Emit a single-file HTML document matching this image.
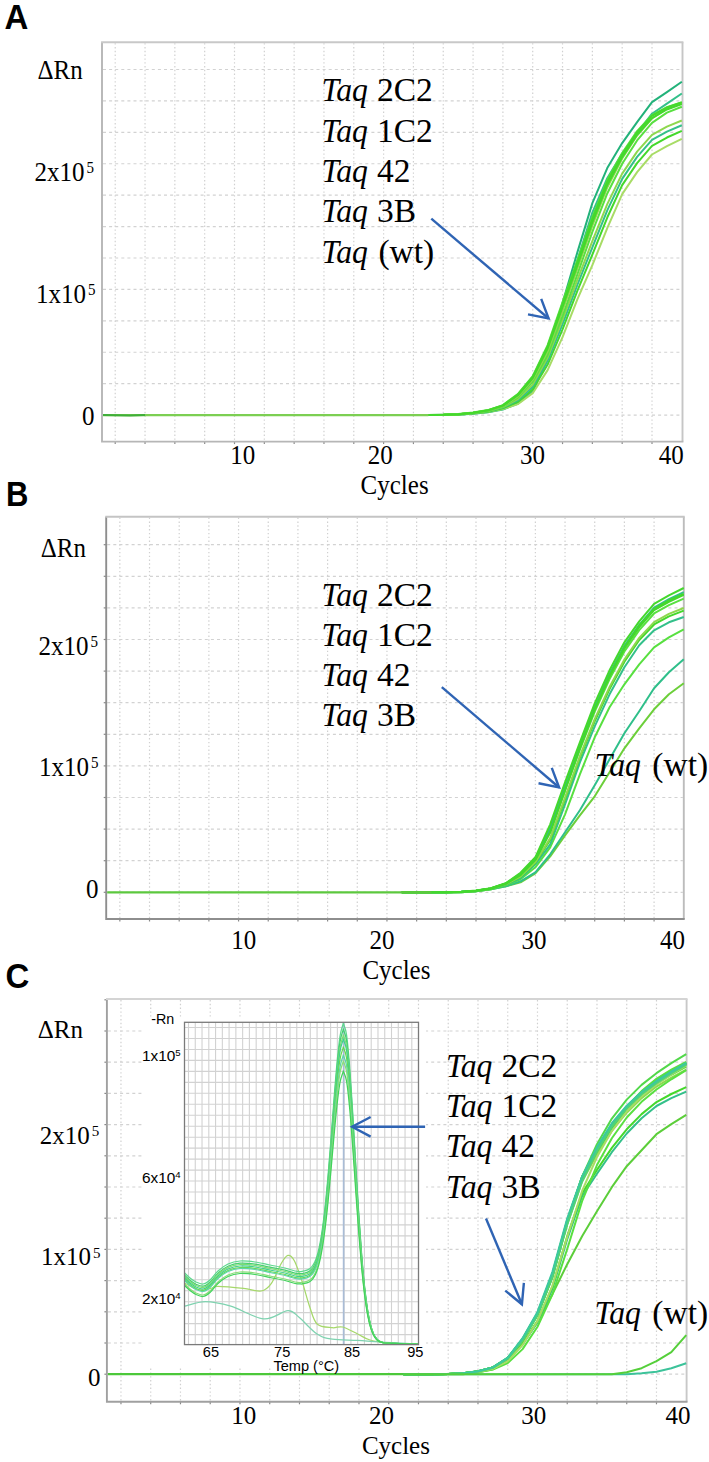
<!DOCTYPE html>
<html><head><meta charset="utf-8"><title>qPCR</title>
<style>html,body{margin:0;padding:0;background:#fff;width:709px;height:1462px;overflow:hidden}svg{display:block}</style>
</head><body>
<svg width="709" height="1462" viewBox="0 0 709 1462">
<rect width="709" height="1462" fill="#fff"/>
<g stroke="#d0d0d0" stroke-width="1.2" stroke-dasharray="1.4 2.4"><line x1="115.21" y1="43.2" x2="115.21" y2="440.6"/><line x1="145.03" y1="43.2" x2="145.03" y2="440.6"/><line x1="174.85" y1="43.2" x2="174.85" y2="440.6"/><line x1="204.68" y1="43.2" x2="204.68" y2="440.6"/><line x1="234.5" y1="43.2" x2="234.5" y2="440.6"/><line x1="264.32" y1="43.2" x2="264.32" y2="440.6"/><line x1="294.14" y1="43.2" x2="294.14" y2="440.6"/><line x1="323.96" y1="43.2" x2="323.96" y2="440.6"/><line x1="353.79" y1="43.2" x2="353.79" y2="440.6"/><line x1="383.61" y1="43.2" x2="383.61" y2="440.6"/><line x1="413.43" y1="43.2" x2="413.43" y2="440.6"/><line x1="443.25" y1="43.2" x2="443.25" y2="440.6"/><line x1="473.07" y1="43.2" x2="473.07" y2="440.6"/><line x1="502.9" y1="43.2" x2="502.9" y2="440.6"/><line x1="532.72" y1="43.2" x2="532.72" y2="440.6"/><line x1="562.54" y1="43.2" x2="562.54" y2="440.6"/><line x1="592.36" y1="43.2" x2="592.36" y2="440.6"/><line x1="622.18" y1="43.2" x2="622.18" y2="440.6"/><line x1="652.01" y1="43.2" x2="652.01" y2="440.6"/></g>
<g stroke="#d2d2d2" stroke-width="1.2" stroke-dasharray="3 3.1"><line x1="103" y1="415.1" x2="681.5" y2="415.1"/><line x1="103" y1="383.68" x2="681.5" y2="383.68"/><line x1="103" y1="352.26" x2="681.5" y2="352.26"/><line x1="103" y1="320.84" x2="681.5" y2="320.84"/><line x1="103" y1="289.42" x2="681.5" y2="289.42"/><line x1="103" y1="258" x2="681.5" y2="258"/><line x1="103" y1="226.58" x2="681.5" y2="226.58"/><line x1="103" y1="195.16" x2="681.5" y2="195.16"/><line x1="103" y1="163.74" x2="681.5" y2="163.74"/><line x1="103" y1="132.32" x2="681.5" y2="132.32"/><line x1="103" y1="100.9" x2="681.5" y2="100.9"/><line x1="103" y1="69.48" x2="681.5" y2="69.48"/></g>
<g stroke="#8a8a8a" stroke-width="1.2"><line x1="115.21" y1="441.6" x2="115.21" y2="444.1"/><line x1="145.03" y1="441.6" x2="145.03" y2="444.1"/><line x1="174.85" y1="441.6" x2="174.85" y2="444.1"/><line x1="204.68" y1="441.6" x2="204.68" y2="444.1"/><line x1="234.5" y1="441.6" x2="234.5" y2="444.1"/><line x1="264.32" y1="441.6" x2="264.32" y2="444.1"/><line x1="294.14" y1="441.6" x2="294.14" y2="444.1"/><line x1="323.96" y1="441.6" x2="323.96" y2="444.1"/><line x1="353.79" y1="441.6" x2="353.79" y2="444.1"/><line x1="383.61" y1="441.6" x2="383.61" y2="444.1"/><line x1="413.43" y1="441.6" x2="413.43" y2="444.1"/><line x1="443.25" y1="441.6" x2="443.25" y2="444.1"/><line x1="473.07" y1="441.6" x2="473.07" y2="444.1"/><line x1="502.9" y1="441.6" x2="502.9" y2="444.1"/><line x1="532.72" y1="441.6" x2="532.72" y2="444.1"/><line x1="562.54" y1="441.6" x2="562.54" y2="444.1"/><line x1="592.36" y1="441.6" x2="592.36" y2="444.1"/><line x1="622.18" y1="441.6" x2="622.18" y2="444.1"/><line x1="652.01" y1="441.6" x2="652.01" y2="444.1"/></g>
<line x1="682.5" y1="42.2" x2="682.5" y2="441.6" stroke="#c6c6c6" stroke-width="1.9"/>
<path d="M102 42.2V441.6H683.4" fill="none" stroke="#b6b6b6" stroke-width="1.9"/>
<line x1="101.1" y1="42.2" x2="683.4" y2="42.2" stroke="#c8c8c8" stroke-width="1.9"/>
<polyline fill="none" stroke="#22b27a" stroke-width="2.0" stroke-linejoin="round" points="398.52,415.1 413.43,415.1 428.34,415.1 443.25,415.1 458.16,414.6 473.07,413.6 487.99,412.1 502.9,409.1 517.81,403.1 532.72,390.1 547.63,355.1 562.54,303.1 577.45,252.1 592.36,203.1 607.27,168.1 622.18,143.1 637.1,122.1 652.01,102.1 666.92,92.1 681.83,81.7"/>
<polyline fill="none" stroke="#33c08a" stroke-width="2.0" stroke-linejoin="round" points="398.52,415.1 413.43,415.1 428.34,415.1 443.25,415.1 458.16,414.64 473.07,413.7 487.99,412.27 502.9,409.45 517.81,403.8 532.72,391.58 547.63,358.83 562.54,309.42 577.45,260.11 592.36,212.67 607.27,178.19 622.18,153.56 637.1,133.08 652.01,113.71 666.92,103.56 681.83,93.54"/>
<polyline fill="none" stroke="#a8dc66" stroke-width="2.0" stroke-linejoin="round" points="398.52,415.1 413.43,415.1 428.34,415.1 443.25,414.9 458.16,414.5 473.07,413.6 487.99,412.1 502.9,409.1 517.81,404.1 532.72,393.1 547.63,370.1 562.54,337.1 577.45,299.1 592.36,265.1 607.27,228.1 622.18,194.1 637.1,172.1 652.01,154.5 666.92,146.1 681.83,138.9"/>
<polyline fill="none" stroke="#44d82c" stroke-width="2.0" stroke-linejoin="round" points="398.52,415.1 413.43,415.1 428.34,415.1 443.25,414.88 458.16,414.41 473.07,413.38 487.99,411.66 502.9,408.22 517.81,401.9 532.72,389.36 547.63,364.6 562.54,329.4 577.45,290.52 592.36,254.54 607.27,217.54 622.18,185.08 637.1,163.08 652.01,145.83 666.92,137.52 681.83,130.8"/>
<polyline fill="none" stroke="#33c08a" stroke-width="2.0" stroke-linejoin="round" points="398.52,415.1 413.43,415.1 428.34,415.1 443.25,414.86 458.16,414.35 473.07,413.23 487.99,411.36 502.9,407.62 517.81,400.4 532.72,386.81 547.63,360.85 562.54,324.15 577.45,284.67 592.36,247.34 607.27,210.34 622.18,178.93 637.1,156.93 652.01,139.92 666.92,131.67 681.83,125.28"/>
<polyline fill="none" stroke="#8ed84e" stroke-width="2.0" stroke-linejoin="round" points="398.52,415.1 413.43,415.1 428.34,415.1 443.25,414.85 458.16,414.3 473.07,413.1 487.99,411.1 502.9,407.1 517.81,399.1 532.72,384.6 547.63,357.6 562.54,319.6 577.45,279.6 592.36,241.1 607.27,204.1 622.18,173.6 637.1,151.6 652.01,134.8 666.92,126.6 681.83,120.5"/>
<polyline fill="none" stroke="#58e040" stroke-width="2.0" stroke-linejoin="round" points="398.52,415.1 413.43,415.1 428.34,415.1 443.25,414.89 458.16,414.32 473.07,413.07 487.99,410.89 502.9,406.69 517.81,397.58 532.72,381.84 547.63,355.01 562.54,316 577.45,274.12 592.36,231.85 607.27,193.44 622.18,163.74 637.1,140.47 652.01,122.85 666.92,112.56 681.83,106.72"/>
<polyline fill="none" stroke="#8ed84e" stroke-width="2.0" stroke-linejoin="round" points="398.52,415.1 413.43,415.1 428.34,415.1 443.25,414.86 458.16,414.24 473.07,412.9 487.99,410.6 502.9,406.1 517.81,396.3 532.72,379.7 547.63,351.3 562.54,310.7 577.45,268.5 592.36,225.7 607.27,187.5 622.18,158.5 637.1,135.5 652.01,118.3 666.92,108.7 681.83,103.1"/>
<polyline fill="none" stroke="#44d82c" stroke-width="2.0" stroke-linejoin="round" points="398.52,415.1 413.43,415.1 428.34,415.1 443.25,414.83 458.16,414.17 473.07,412.76 487.99,410.37 502.9,405.65 517.81,395.3 532.72,378.09 547.63,348.53 562.54,306.94 577.45,265.05 592.36,222.37 607.27,184.96 622.18,157.1 637.1,134.71 652.01,118.19 666.92,109.44 681.83,104.16"/>
<polyline fill="none" stroke="#58e040" stroke-width="2.0" stroke-linejoin="round" points="398.52,415.1 413.43,415.1 428.34,415.1 443.25,414.8 458.16,414.1 473.07,412.6 487.99,410.1 502.9,405.1 517.81,394.1 532.72,376.1 547.63,345.1 562.54,302.1 577.45,260.1 592.36,217.1 607.27,180.1 622.18,153.1 637.1,131.1 652.01,115.1 666.92,107.1 681.83,102.1"/>
<polyline fill="none" stroke="#44d82c" stroke-width="2.0" stroke-linejoin="round" points="398.52,415.1 413.43,415.1 428.34,415.1 443.25,414.81 458.16,414.14 473.07,412.68 487.99,410.23 502.9,405.35 517.81,394.65 532.72,377 547.63,346.65 562.54,304.25 577.45,262.2 592.36,219.25 607.27,181.95 622.18,154.45 637.1,132.2 652.01,115.9 666.92,107.5 681.83,102.35"/>
<line x1="103" y1="415.1" x2="428.34" y2="415.1" stroke="#7ccf52" stroke-width="2.2"/>
<path d="M103 415.1L130.12 415.5L145.03 415.1" fill="none" stroke="#3fae3a" stroke-width="2"/>
<text transform="translate(4.5 28.8) scale(1 1.06)" font-size="33" font-family="'Liberation Sans', sans-serif" font-weight="bold">A</text>
<text transform="translate(37.5 78.5) scale(1 1.08)" font-size="25.0" font-family="'Liberation Serif', serif" >&#916;Rn</text>
<text transform="translate(34.5 181.4) scale(1 1.08)" font-size="25.0" font-family="'Liberation Serif', serif" >2x10<tspan font-size="15" dx="2" dy="-7.4">5</tspan></text>
<text transform="translate(36 303.3) scale(1 1.08)" font-size="25.0" font-family="'Liberation Serif', serif" >1x10<tspan font-size="15" dx="2" dy="-7.4">5</tspan></text>
<text transform="translate(82 424.6) scale(1 1.08)" font-size="25.0" font-family="'Liberation Serif', serif" >0</text>
<text transform="translate(242.8 463.5) scale(1 1.08)" font-size="25.0" text-anchor="middle" font-family="'Liberation Serif', serif" >10</text>
<text transform="translate(380.2 463.5) scale(1 1.08)" font-size="25.0" text-anchor="middle" font-family="'Liberation Serif', serif" >20</text>
<text transform="translate(532.6 463.5) scale(1 1.08)" font-size="25.0" text-anchor="middle" font-family="'Liberation Serif', serif" >30</text>
<text transform="translate(671.3 463.5) scale(1 1.08)" font-size="25.0" text-anchor="middle" font-family="'Liberation Serif', serif" >40</text>
<text transform="translate(394.6 493.8) scale(1 1.08)" font-size="25.0" text-anchor="middle" font-family="'Liberation Serif', serif" >Cycles</text>
<text transform="translate(321.5 101.2) scale(0.96 1)" font-size="33" font-family="'Liberation Serif', serif" font-style="italic">Taq</text><text transform="translate(376.9 101.2) scale(1 1.03)" font-size="33.5" font-family="'Liberation Serif', serif" >2C2</text>
<text transform="translate(321.5 141.55) scale(0.96 1)" font-size="33" font-family="'Liberation Serif', serif" font-style="italic">Taq</text><text transform="translate(376.9 141.55) scale(1 1.03)" font-size="33.5" font-family="'Liberation Serif', serif" >1C2</text>
<text transform="translate(321.5 181.9) scale(0.96 1)" font-size="33" font-family="'Liberation Serif', serif" font-style="italic">Taq</text><text transform="translate(376.9 181.9) scale(1 1.03)" font-size="33.5" font-family="'Liberation Serif', serif" >42</text>
<text transform="translate(321.5 222.25) scale(0.96 1)" font-size="33" font-family="'Liberation Serif', serif" font-style="italic">Taq</text><text transform="translate(376.9 222.25) scale(1 1.03)" font-size="33.5" font-family="'Liberation Serif', serif" >3B</text>
<text transform="translate(321.5 262.6) scale(0.96 1)" font-size="33" font-family="'Liberation Serif', serif" font-style="italic">Taq</text><text transform="translate(378.4 262.6) scale(1 1.03)" font-size="33.5" font-family="'Liberation Serif', serif" >(wt)</text>
<g stroke="#2f64b4" stroke-width="2.4" fill="none" stroke-linecap="butt" stroke-linejoin="miter"><line x1="431.3" y1="218.7" x2="548.6" y2="318.5"/><polyline points="528.01,314.35 548.6,318.5 541.21,298.84"/></g>
<g stroke="#d0d0d0" stroke-width="1.2" stroke-dasharray="1.4 2.4"><line x1="119.84" y1="517.7" x2="119.84" y2="918"/><line x1="149.52" y1="517.7" x2="149.52" y2="918"/><line x1="179.2" y1="517.7" x2="179.2" y2="918"/><line x1="208.88" y1="517.7" x2="208.88" y2="918"/><line x1="238.56" y1="517.7" x2="238.56" y2="918"/><line x1="268.24" y1="517.7" x2="268.24" y2="918"/><line x1="297.92" y1="517.7" x2="297.92" y2="918"/><line x1="327.6" y1="517.7" x2="327.6" y2="918"/><line x1="357.28" y1="517.7" x2="357.28" y2="918"/><line x1="386.96" y1="517.7" x2="386.96" y2="918"/><line x1="416.64" y1="517.7" x2="416.64" y2="918"/><line x1="446.32" y1="517.7" x2="446.32" y2="918"/><line x1="476" y1="517.7" x2="476" y2="918"/><line x1="505.68" y1="517.7" x2="505.68" y2="918"/><line x1="535.36" y1="517.7" x2="535.36" y2="918"/><line x1="565.04" y1="517.7" x2="565.04" y2="918"/><line x1="594.72" y1="517.7" x2="594.72" y2="918"/><line x1="624.4" y1="517.7" x2="624.4" y2="918"/><line x1="654.08" y1="517.7" x2="654.08" y2="918"/></g>
<g stroke="#d2d2d2" stroke-width="1.2" stroke-dasharray="3 3.1"><line x1="107.2" y1="892.3" x2="682.8" y2="892.3"/><line x1="107.2" y1="860.7" x2="682.8" y2="860.7"/><line x1="107.2" y1="829.1" x2="682.8" y2="829.1"/><line x1="107.2" y1="797.5" x2="682.8" y2="797.5"/><line x1="107.2" y1="765.9" x2="682.8" y2="765.9"/><line x1="107.2" y1="734.3" x2="682.8" y2="734.3"/><line x1="107.2" y1="702.7" x2="682.8" y2="702.7"/><line x1="107.2" y1="671.1" x2="682.8" y2="671.1"/><line x1="107.2" y1="639.5" x2="682.8" y2="639.5"/><line x1="107.2" y1="607.9" x2="682.8" y2="607.9"/><line x1="107.2" y1="576.3" x2="682.8" y2="576.3"/><line x1="107.2" y1="544.7" x2="682.8" y2="544.7"/></g>
<g stroke="#8a8a8a" stroke-width="1.2"><line x1="119.84" y1="919" x2="119.84" y2="921.5"/><line x1="149.52" y1="919" x2="149.52" y2="921.5"/><line x1="179.2" y1="919" x2="179.2" y2="921.5"/><line x1="208.88" y1="919" x2="208.88" y2="921.5"/><line x1="238.56" y1="919" x2="238.56" y2="921.5"/><line x1="268.24" y1="919" x2="268.24" y2="921.5"/><line x1="297.92" y1="919" x2="297.92" y2="921.5"/><line x1="327.6" y1="919" x2="327.6" y2="921.5"/><line x1="357.28" y1="919" x2="357.28" y2="921.5"/><line x1="386.96" y1="919" x2="386.96" y2="921.5"/><line x1="416.64" y1="919" x2="416.64" y2="921.5"/><line x1="446.32" y1="919" x2="446.32" y2="921.5"/><line x1="476" y1="919" x2="476" y2="921.5"/><line x1="505.68" y1="919" x2="505.68" y2="921.5"/><line x1="535.36" y1="919" x2="535.36" y2="921.5"/><line x1="565.04" y1="919" x2="565.04" y2="921.5"/><line x1="594.72" y1="919" x2="594.72" y2="921.5"/><line x1="624.4" y1="919" x2="624.4" y2="921.5"/><line x1="654.08" y1="919" x2="654.08" y2="921.5"/><line x1="103.7" y1="892.3" x2="106.2" y2="892.3"/><line x1="103.7" y1="860.7" x2="106.2" y2="860.7"/><line x1="103.7" y1="829.1" x2="106.2" y2="829.1"/><line x1="103.7" y1="797.5" x2="106.2" y2="797.5"/><line x1="103.7" y1="765.9" x2="106.2" y2="765.9"/><line x1="103.7" y1="734.3" x2="106.2" y2="734.3"/><line x1="103.7" y1="702.7" x2="106.2" y2="702.7"/><line x1="103.7" y1="671.1" x2="106.2" y2="671.1"/><line x1="103.7" y1="639.5" x2="106.2" y2="639.5"/><line x1="103.7" y1="607.9" x2="106.2" y2="607.9"/><line x1="103.7" y1="576.3" x2="106.2" y2="576.3"/><line x1="103.7" y1="544.7" x2="106.2" y2="544.7"/></g>
<line x1="683.8" y1="516.7" x2="683.8" y2="919" stroke="#bcbcbc" stroke-width="1.9"/>
<path d="M106.2 516.7V919H684.7" fill="none" stroke="#8e8e8e" stroke-width="1.9"/>
<line x1="105.3" y1="516.7" x2="684.7" y2="516.7" stroke="#c4c4c4" stroke-width="1.9"/>
<polyline fill="none" stroke="#6ccf3a" stroke-width="2.0" stroke-linejoin="round" points="401.8,892.3 416.64,892.3 431.48,892.3 446.32,892.3 461.16,892.3 476,891.3 490.84,889.3 505.68,886.3 520.52,882.3 535.36,873.3 550.2,856.3 565.04,835.3 579.88,815.3 594.72,796.3 609.56,772.3 624.4,748.3 639.24,728.3 654.08,709.3 668.92,694.3 683.76,683.3"/>
<polyline fill="none" stroke="#2fbf8a" stroke-width="2.0" stroke-linejoin="round" points="401.8,892.3 416.64,892.3 431.48,892.3 446.32,892.3 461.16,892.3 476,891.3 490.84,889.3 505.68,886.3 520.52,881.3 535.36,872.3 550.2,854.3 565.04,832.3 579.88,810.3 594.72,785.3 609.56,759.3 624.4,733.3 639.24,711.3 654.08,688.3 668.92,672.3 683.76,659.3"/>
<polyline fill="none" stroke="#58e040" stroke-width="2.0" stroke-linejoin="round" points="401.8,892.3 416.64,892.3 431.48,892.3 446.32,892.3 461.16,892.3 476,891.3 490.84,889.3 505.68,885.3 520.52,879.3 535.36,867.3 550.2,847.3 565.04,814.3 579.88,774.3 594.72,737.3 609.56,707.3 624.4,684.3 639.24,664.3 654.08,647.3 668.92,637.3 683.76,629.3"/>
<polyline fill="none" stroke="#33c08a" stroke-width="2.0" stroke-linejoin="round" points="401.8,892.3 416.64,892.3 431.48,892.3 446.32,892.3 461.16,892 476,891.1 490.84,888.8 505.68,884.7 520.52,878.3 535.36,864.3 550.2,844.3 565.04,804.3 579.88,762.3 594.72,726.3 609.56,694.3 624.4,667.3 639.24,645.3 654.08,630.3 668.92,622.3 683.76,617"/>
<polyline fill="none" stroke="#44d82c" stroke-width="2.0" stroke-linejoin="round" points="401.8,892.3 416.64,892.3 431.48,892.3 446.32,892.3 461.16,891.96 476,890.99 490.84,888.69 505.68,884.39 520.52,877.09 535.36,862.76 550.2,839.9 565.04,799.46 579.88,757.9 594.72,721.24 609.56,689.02 624.4,661.8 639.24,640.02 654.08,624.47 668.92,616.36 683.76,610.62"/>
<polyline fill="none" stroke="#8ed84e" stroke-width="2.0" stroke-linejoin="round" points="401.8,892.3 416.64,892.3 431.48,892.3 446.32,892.3 461.16,891.94 476,890.94 490.84,888.64 505.68,884.27 520.52,876.59 535.36,862.13 550.2,838.1 565.04,797.48 579.88,756.1 594.72,719.17 609.56,686.86 624.4,659.55 639.24,637.86 654.08,622.09 668.92,613.93 683.76,608.01"/>
<polyline fill="none" stroke="#58e040" stroke-width="2.0" stroke-linejoin="round" points="401.8,892.3 416.64,892.3 431.48,892.3 446.32,892.3 461.16,891.87 476,890.78 490.84,888.48 505.68,883.81 520.52,874.81 535.36,859.85 550.2,831.6 565.04,790.33 579.88,749.6 594.72,711.69 609.56,679.06 624.4,651.42 639.24,630.06 654.08,613.47 668.92,605.15 683.76,598.58"/>
<polyline fill="none" stroke="#44d82c" stroke-width="2.0" stroke-linejoin="round" points="401.8,892.3 416.64,892.3 431.48,892.3 446.32,892.3 461.16,891.85 476,890.72 490.84,888.42 505.68,883.64 520.52,874.12 535.36,858.98 550.2,829.1 565.04,787.58 579.88,747.1 594.72,708.82 609.56,676.06 624.4,648.3 639.24,627.06 654.08,610.16 668.92,601.78 683.76,594.96"/>
<polyline fill="none" stroke="#33c08a" stroke-width="2.0" stroke-linejoin="round" points="401.8,892.3 416.64,892.3 431.48,892.3 446.32,892.3 461.16,891.83 476,890.67 490.84,888.37 505.68,883.5 520.52,873.6 535.36,858.31 550.2,827.2 565.04,785.49 579.88,745.2 594.72,706.63 609.56,673.78 624.4,645.92 639.24,624.78 654.08,607.64 668.92,599.21 683.76,592.2"/>
<polyline fill="none" stroke="#44d82c" stroke-width="2.0" stroke-linejoin="round" points="401.8,892.3 416.64,892.3 431.48,892.3 446.32,892.3 461.16,891.89 476,890.81 490.84,888.44 505.68,883.75 520.52,875.05 535.36,859.85 550.2,832.56 565.04,790.33 579.88,748.1 594.72,709.47 609.56,676 624.4,647.67 639.24,625.53 654.08,608.79 668.92,600.29 683.76,593.81"/>
<polyline fill="none" stroke="#44d82c" stroke-width="2.0" stroke-linejoin="round" points="401.8,892.3 416.64,892.3 431.48,892.3 446.32,892.3 461.16,891.8 476,890.6 490.84,888.3 505.68,883.3 520.52,872.8 535.36,857.3 550.2,824.3 565.04,782.3 579.88,742.3 594.72,703.3 609.56,670.3 624.4,642.3 639.24,621.3 654.08,603.8 668.92,595.3 683.76,588"/>
<line x1="107.2" y1="892.3" x2="431.48" y2="892.3" stroke="#5cc83e" stroke-width="2.2"/>
<text transform="translate(6 506) scale(0.94 1.06)" font-size="33" font-family="'Liberation Sans', sans-serif" font-weight="bold">B</text>
<text transform="translate(40.7 557) scale(1 1.08)" font-size="25.0" font-family="'Liberation Serif', serif" >&#916;Rn</text>
<text transform="translate(38.6 654.6) scale(1 1.08)" font-size="25.0" font-family="'Liberation Serif', serif" >2x10<tspan font-size="15" dx="2" dy="-7.4">5</tspan></text>
<text transform="translate(39 776.3) scale(1 1.08)" font-size="25.0" font-family="'Liberation Serif', serif" >1x10<tspan font-size="15" dx="2" dy="-7.4">5</tspan></text>
<text transform="translate(86 898.4) scale(1 1.08)" font-size="25.0" font-family="'Liberation Serif', serif" >0</text>
<text transform="translate(243.8 949) scale(1 1.08)" font-size="25.0" text-anchor="middle" font-family="'Liberation Serif', serif" >10</text>
<text transform="translate(382 949) scale(1 1.08)" font-size="25.0" text-anchor="middle" font-family="'Liberation Serif', serif" >20</text>
<text transform="translate(533.9 949) scale(1 1.08)" font-size="25.0" text-anchor="middle" font-family="'Liberation Serif', serif" >30</text>
<text transform="translate(672.4 949) scale(1 1.08)" font-size="25.0" text-anchor="middle" font-family="'Liberation Serif', serif" >40</text>
<text transform="translate(396.4 978.5) scale(1 1.08)" font-size="25.0" text-anchor="middle" font-family="'Liberation Serif', serif" >Cycles</text>
<text transform="translate(321.5 606) scale(0.96 1)" font-size="33" font-family="'Liberation Serif', serif" font-style="italic">Taq</text><text transform="translate(376.9 606) scale(1 1.03)" font-size="33.5" font-family="'Liberation Serif', serif" >2C2</text>
<text transform="translate(321.5 646.15) scale(0.96 1)" font-size="33" font-family="'Liberation Serif', serif" font-style="italic">Taq</text><text transform="translate(376.9 646.15) scale(1 1.03)" font-size="33.5" font-family="'Liberation Serif', serif" >1C2</text>
<text transform="translate(321.5 686.3) scale(0.96 1)" font-size="33" font-family="'Liberation Serif', serif" font-style="italic">Taq</text><text transform="translate(376.9 686.3) scale(1 1.03)" font-size="33.5" font-family="'Liberation Serif', serif" >42</text>
<text transform="translate(321.5 726.45) scale(0.96 1)" font-size="33" font-family="'Liberation Serif', serif" font-style="italic">Taq</text><text transform="translate(376.9 726.45) scale(1 1.03)" font-size="33.5" font-family="'Liberation Serif', serif" >3B</text>
<text transform="translate(594.5 776.4) scale(0.96 1)" font-size="33" font-family="'Liberation Serif', serif" font-style="italic">Taq</text><text transform="translate(652.3 776.4) scale(1 1.03)" font-size="33.5" font-family="'Liberation Serif', serif" >(wt)</text>
<g stroke="#2f64b4" stroke-width="2.4" fill="none" stroke-linecap="butt" stroke-linejoin="miter"><line x1="441.8" y1="687.1" x2="559.1" y2="787.5"/><polyline points="538.53,783.29 559.1,787.5 551.77,767.82"/></g>
<g stroke="#d0d0d0" stroke-width="1.2" stroke-dasharray="1.4 2.4"><line x1="120.97" y1="1000" x2="120.97" y2="1400.8"/><line x1="150.72" y1="1000" x2="150.72" y2="1400.8"/><line x1="180.47" y1="1000" x2="180.47" y2="1400.8"/><line x1="210.22" y1="1000" x2="210.22" y2="1400.8"/><line x1="239.97" y1="1000" x2="239.97" y2="1400.8"/><line x1="269.73" y1="1000" x2="269.73" y2="1400.8"/><line x1="299.48" y1="1000" x2="299.48" y2="1400.8"/><line x1="329.23" y1="1000" x2="329.23" y2="1400.8"/><line x1="358.98" y1="1000" x2="358.98" y2="1400.8"/><line x1="388.73" y1="1000" x2="388.73" y2="1400.8"/><line x1="418.48" y1="1000" x2="418.48" y2="1400.8"/><line x1="448.23" y1="1000" x2="448.23" y2="1400.8"/><line x1="477.98" y1="1000" x2="477.98" y2="1400.8"/><line x1="507.73" y1="1000" x2="507.73" y2="1400.8"/><line x1="537.48" y1="1000" x2="537.48" y2="1400.8"/><line x1="567.23" y1="1000" x2="567.23" y2="1400.8"/><line x1="596.98" y1="1000" x2="596.98" y2="1400.8"/><line x1="626.73" y1="1000" x2="626.73" y2="1400.8"/><line x1="656.48" y1="1000" x2="656.48" y2="1400.8"/></g>
<g stroke="#d2d2d2" stroke-width="1.2" stroke-dasharray="3 3.1"><line x1="107.9" y1="1374.2" x2="685.6" y2="1374.2"/><line x1="107.9" y1="1343" x2="685.6" y2="1343"/><line x1="107.9" y1="1311.8" x2="685.6" y2="1311.8"/><line x1="107.9" y1="1280.6" x2="685.6" y2="1280.6"/><line x1="107.9" y1="1249.4" x2="685.6" y2="1249.4"/><line x1="107.9" y1="1218.2" x2="685.6" y2="1218.2"/><line x1="107.9" y1="1187" x2="685.6" y2="1187"/><line x1="107.9" y1="1155.8" x2="685.6" y2="1155.8"/><line x1="107.9" y1="1124.6" x2="685.6" y2="1124.6"/><line x1="107.9" y1="1093.4" x2="685.6" y2="1093.4"/><line x1="107.9" y1="1062.2" x2="685.6" y2="1062.2"/><line x1="107.9" y1="1031" x2="685.6" y2="1031"/></g>
<g stroke="#8a8a8a" stroke-width="1.2"><line x1="120.97" y1="1401.8" x2="120.97" y2="1404.3"/><line x1="150.72" y1="1401.8" x2="150.72" y2="1404.3"/><line x1="180.47" y1="1401.8" x2="180.47" y2="1404.3"/><line x1="210.22" y1="1401.8" x2="210.22" y2="1404.3"/><line x1="239.97" y1="1401.8" x2="239.97" y2="1404.3"/><line x1="269.73" y1="1401.8" x2="269.73" y2="1404.3"/><line x1="299.48" y1="1401.8" x2="299.48" y2="1404.3"/><line x1="329.23" y1="1401.8" x2="329.23" y2="1404.3"/><line x1="358.98" y1="1401.8" x2="358.98" y2="1404.3"/><line x1="388.73" y1="1401.8" x2="388.73" y2="1404.3"/><line x1="418.48" y1="1401.8" x2="418.48" y2="1404.3"/><line x1="448.23" y1="1401.8" x2="448.23" y2="1404.3"/><line x1="477.98" y1="1401.8" x2="477.98" y2="1404.3"/><line x1="507.73" y1="1401.8" x2="507.73" y2="1404.3"/><line x1="537.48" y1="1401.8" x2="537.48" y2="1404.3"/><line x1="567.23" y1="1401.8" x2="567.23" y2="1404.3"/><line x1="596.98" y1="1401.8" x2="596.98" y2="1404.3"/><line x1="626.73" y1="1401.8" x2="626.73" y2="1404.3"/><line x1="656.48" y1="1401.8" x2="656.48" y2="1404.3"/><line x1="104.4" y1="1374.2" x2="106.9" y2="1374.2"/><line x1="104.4" y1="1343" x2="106.9" y2="1343"/><line x1="104.4" y1="1311.8" x2="106.9" y2="1311.8"/><line x1="104.4" y1="1280.6" x2="106.9" y2="1280.6"/><line x1="104.4" y1="1249.4" x2="106.9" y2="1249.4"/><line x1="104.4" y1="1218.2" x2="106.9" y2="1218.2"/><line x1="104.4" y1="1187" x2="106.9" y2="1187"/><line x1="104.4" y1="1155.8" x2="106.9" y2="1155.8"/><line x1="104.4" y1="1124.6" x2="106.9" y2="1124.6"/><line x1="104.4" y1="1093.4" x2="106.9" y2="1093.4"/><line x1="104.4" y1="1062.2" x2="106.9" y2="1062.2"/><line x1="104.4" y1="1031" x2="106.9" y2="1031"/><line x1="104.4" y1="999.8" x2="106.9" y2="999.8"/></g>
<line x1="686.6" y1="999" x2="686.6" y2="1401.8" stroke="#c8c8c8" stroke-width="1.9"/>
<path d="M106.9 999V1401.8H687.5" fill="none" stroke="#a0a0a0" stroke-width="1.9"/>
<line x1="106" y1="999" x2="687.5" y2="999" stroke="#d4d4d4" stroke-width="1.9"/>
<polyline fill="none" stroke="#5cce3a" stroke-width="2.0" stroke-linejoin="round" points="403.6,1374.2 418.48,1374.2 433.35,1374.2 448.23,1374.2 463.1,1374.2 477.98,1372.2 492.85,1369.2 507.73,1360.2 522.6,1344.2 537.48,1322.2 552.35,1294.2 567.23,1264.2 582.1,1236.2 596.98,1211.2 611.85,1187.2 626.73,1166.2 641.6,1150.2 656.48,1134.2 671.35,1124.2 686.23,1114.8"/>
<polyline fill="none" stroke="#33c08a" stroke-width="2.0" stroke-linejoin="round" points="403.6,1374.2 418.48,1374.2 433.35,1374.2 448.23,1373.9 463.1,1373.4 477.98,1371.7 492.85,1368.2 507.73,1360.2 522.6,1344.2 537.48,1322.2 552.35,1289.2 567.23,1239.2 582.1,1196.2 596.98,1173.8 611.85,1152.2 626.73,1133.5 641.6,1118.2 656.48,1106 671.35,1098.2 686.23,1091.7"/>
<polyline fill="none" stroke="#44d82c" stroke-width="2.0" stroke-linejoin="round" points="403.6,1374.2 418.48,1374.2 433.35,1374.2 448.23,1373.9 463.1,1373.38 477.98,1371.64 492.85,1368.08 507.73,1359.84 522.6,1343.36 537.48,1320.76 552.35,1286.8 567.23,1236.2 582.1,1193.2 596.98,1169.84 611.85,1147.88 626.73,1129.28 641.6,1114.12 656.48,1102.04 671.35,1094 686.23,1087.21"/>
<polyline fill="none" stroke="#33c08a" stroke-width="2.0" stroke-linejoin="round" points="403.6,1374.2 418.48,1374.2 433.35,1374.2 448.23,1373.88 463.1,1373.29 477.98,1371.39 492.85,1367.52 507.73,1358.41 522.6,1340.17 537.48,1315.26 552.35,1277.74 567.23,1223.15 582.1,1177.57 596.98,1151.28 611.85,1127.43 626.73,1107.86 641.6,1092.03 656.48,1079.41 671.35,1070.51 686.23,1062.86"/>
<polyline fill="none" stroke="#8ed84e" stroke-width="2.0" stroke-linejoin="round" points="403.6,1374.2 418.48,1374.2 433.35,1374.2 448.23,1373.9 463.1,1373.28 477.98,1371.4 492.85,1367.61 507.73,1358.43 522.6,1340.07 537.48,1315.12 552.35,1277.4 567.23,1224.45 582.1,1181.45 596.98,1154.33 611.85,1130.96 626.73,1112.73 641.6,1098.14 656.48,1086.53 671.35,1077.55 686.23,1069.63"/>
<polyline fill="none" stroke="#58e040" stroke-width="2.0" stroke-linejoin="round" points="403.6,1374.2 418.48,1374.2 433.35,1374.2 448.23,1373.9 463.1,1373.27 477.98,1371.37 492.85,1367.53 507.73,1358.19 522.6,1339.51 537.48,1314.16 552.35,1275.8 567.23,1222.45 582.1,1179.45 596.98,1151.69 611.85,1128.08 626.73,1109.92 641.6,1095.42 656.48,1083.89 671.35,1074.75 686.23,1066.64"/>
<polyline fill="none" stroke="#22b27a" stroke-width="2.0" stroke-linejoin="round" points="403.6,1374.2 418.48,1374.2 433.35,1374.2 448.23,1373.9 463.1,1373.25 477.98,1371.33 492.85,1367.46 507.73,1357.97 522.6,1338.99 537.48,1313.26 552.35,1274.3 567.23,1220.58 582.1,1177.58 596.98,1149.22 611.85,1125.38 626.73,1107.28 641.6,1092.87 656.48,1081.41 671.35,1072.12 686.23,1063.84"/>
<polyline fill="none" stroke="#44d82c" stroke-width="2.0" stroke-linejoin="round" points="403.6,1374.2 418.48,1374.2 433.35,1374.2 448.23,1373.9 463.1,1373.25 477.98,1371.32 492.85,1367.43 507.73,1357.89 522.6,1338.81 537.48,1312.96 552.35,1273.8 567.23,1219.95 582.1,1176.95 596.98,1148.39 611.85,1124.48 626.73,1106.4 641.6,1092.02 656.48,1080.59 671.35,1071.25 686.23,1062.9"/>
<polyline fill="none" stroke="#33c08a" stroke-width="2.0" stroke-linejoin="round" points="403.6,1374.2 418.48,1374.2 433.35,1374.2 448.23,1373.89 463.1,1373.27 477.98,1371.37 492.85,1367.51 507.73,1358.24 522.6,1339.69 537.48,1314.46 552.35,1276.35 567.23,1222.28 582.1,1177.99 596.98,1150.79 611.85,1127 626.73,1108.15 641.6,1093.01 656.48,1080.96 671.35,1071.89 686.23,1063.96"/>
<polyline fill="none" stroke="#58e040" stroke-width="2.0" stroke-linejoin="round" points="403.6,1374.2 418.48,1374.2 433.35,1374.2 448.23,1373.88 463.1,1373.28 477.98,1371.37 492.85,1367.48 507.73,1358.24 522.6,1339.76 537.48,1314.56 552.35,1276.55 567.23,1221.95 582.1,1176.8 596.98,1149.92 611.85,1125.98 626.73,1106.68 641.6,1091.12 656.48,1078.73 671.35,1069.7 686.23,1061.87"/>
<polyline fill="none" stroke="#58e040" stroke-width="2.0" stroke-linejoin="round" points="403.6,1374.2 418.48,1374.2 433.35,1374.2 448.23,1373.9 463.1,1373.26 477.98,1371.34 492.85,1367.48 507.73,1358.04 522.6,1339.16 537.48,1313.56 552.35,1274.8 567.23,1221.2 582.1,1178.2 596.98,1150.04 611.85,1126.28 626.73,1108.16 641.6,1093.72 656.48,1082.24 671.35,1073 686.23,1064.77"/>
<polyline fill="none" stroke="#58e040" stroke-width="2.0" stroke-linejoin="round" points="403.6,1374.2 418.48,1374.2 433.35,1374.2 448.23,1374.07 463.1,1373.61 477.98,1372.37 492.85,1369.57 507.73,1363.1 522.6,1349.11 537.48,1326.77 552.35,1294.64 567.23,1248.99 582.1,1201.13 596.98,1165.1 611.85,1138.29 626.73,1117.46 641.6,1101.83 656.48,1089.49 671.35,1079.29 686.23,1070.22"/>
<polyline fill="none" stroke="#a8dc66" stroke-width="2.0" stroke-linejoin="round" points="403.6,1374.2 418.48,1374.2 433.35,1374.2 448.23,1374.01 463.1,1373.46 477.98,1371.96 492.85,1368.74 507.73,1361.04 522.6,1344.95 537.48,1321.01 552.35,1285.82 567.23,1236.97 582.1,1190.95 596.98,1157.01 611.85,1131.04 626.73,1111.31 641.6,1096.26 656.48,1084.35 671.35,1074.32 686.23,1065.33"/>
<polyline fill="none" stroke="#52d84a" stroke-width="2.0" stroke-linejoin="round" points="403.6,1374.2 418.48,1374.2 433.35,1374.2 448.23,1373.94 463.1,1373.3 477.98,1371.49 492.85,1367.77 507.73,1358.62 522.6,1340.03 537.48,1313.95 552.35,1274.86 567.23,1221.69 582.1,1176.67 596.98,1144.22 611.85,1118.62 626.73,1099.62 641.6,1084.88 656.48,1073.18 671.35,1063.12 686.23,1054.04"/>
<polyline fill="none" stroke="#4fd27a" stroke-width="2.0" stroke-linejoin="round" points="403.6,1374.2 418.48,1374.2 433.35,1374.2 448.23,1373.94 463.1,1373.3 477.98,1371.48 492.85,1367.8 507.73,1358.68 522.6,1340.25 537.48,1314.74 552.35,1276.33 567.23,1224.34 582.1,1181.46 596.98,1150.75 611.85,1126.33 626.73,1108.31 641.6,1094.27 656.48,1083.12 671.35,1073.48 686.23,1064.76"/>
<polyline fill="none" stroke="#3cc8a0" stroke-width="2.0" stroke-linejoin="round" points="403.6,1374.2 418.48,1374.2 433.35,1374.2 448.23,1373.91 463.1,1373.23 477.98,1371.28 492.85,1367.39 507.73,1357.66 522.6,1338.2 537.48,1311.93 552.35,1272.04 567.23,1218.52 582.1,1176.68 596.98,1147.1 611.85,1123.17 626.73,1105.75 641.6,1092.03 656.48,1081.13 671.35,1071.6 686.23,1062.94"/>
<line x1="107.9" y1="1374.2" x2="433.35" y2="1374.2" stroke="#4cc83a" stroke-width="2.2"/>
<polyline fill="none" stroke="#3cc39a" stroke-width="2.0" stroke-linejoin="round" points="403.6,1374.2 418.48,1374.2 433.35,1374.2 448.23,1374.2 463.1,1374.2 477.98,1374.2 492.85,1374.2 507.73,1374.2 522.6,1374.2 537.48,1374.2 552.35,1374.2 567.23,1374.2 582.1,1374.2 596.98,1374.2 611.85,1374.2 626.73,1374.2 641.6,1373.2 656.48,1371.7 671.35,1368.2 686.23,1363.2"/>
<polyline fill="none" stroke="#55cf3a" stroke-width="2.0" stroke-linejoin="round" points="403.6,1374.2 418.48,1374.2 433.35,1374.2 448.23,1374.2 463.1,1374.2 477.98,1374.2 492.85,1374.2 507.73,1374.2 522.6,1374.2 537.48,1374.2 552.35,1374.2 567.23,1374.2 582.1,1374.2 596.98,1374.2 611.85,1374.2 626.73,1372.2 641.6,1368.2 656.48,1361.2 671.35,1352.2 686.23,1335.2"/>
<text transform="translate(5.6 988.3) scale(1 1.09)" font-size="33" font-family="'Liberation Sans', sans-serif" font-weight="bold">C</text>
<text transform="translate(37.7 1038.4) scale(1 1)" font-size="25.0" font-family="'Liberation Serif', serif" >&#916;Rn</text>
<text transform="translate(39.8 1143.6) scale(1 1)" font-size="25.0" font-family="'Liberation Serif', serif" >2x10<tspan font-size="15" dx="2" dy="-7.4">5</tspan></text>
<text transform="translate(41 1265.4) scale(1 1)" font-size="25.0" font-family="'Liberation Serif', serif" >1x10<tspan font-size="15" dx="2" dy="-7.4">5</tspan></text>
<text transform="translate(88 1385.8) scale(1 1)" font-size="25.0" font-family="'Liberation Serif', serif" >0</text>
<text transform="translate(243.8 1423.6) scale(1 1)" font-size="25.0" text-anchor="middle" font-family="'Liberation Serif', serif" >10</text>
<text transform="translate(381.5 1423.6) scale(1 1)" font-size="25.0" text-anchor="middle" font-family="'Liberation Serif', serif" >20</text>
<text transform="translate(533.7 1423.6) scale(1 1)" font-size="25.0" text-anchor="middle" font-family="'Liberation Serif', serif" >30</text>
<text transform="translate(678.1 1423.6) scale(1 1)" font-size="25.0" text-anchor="middle" font-family="'Liberation Serif', serif" >40</text>
<text transform="translate(395.9 1454) scale(1 1)" font-size="25.0" text-anchor="middle" font-family="'Liberation Serif', serif" >Cycles</text>
<text transform="translate(446 1076.6) scale(0.96 1)" font-size="33" font-family="'Liberation Serif', serif" font-style="italic">Taq</text><text transform="translate(501.4 1076.6) scale(1 1.03)" font-size="33.5" font-family="'Liberation Serif', serif" >2C2</text>
<text transform="translate(446 1116.9) scale(0.96 1)" font-size="33" font-family="'Liberation Serif', serif" font-style="italic">Taq</text><text transform="translate(501.4 1116.9) scale(1 1.03)" font-size="33.5" font-family="'Liberation Serif', serif" >1C2</text>
<text transform="translate(446 1157.2) scale(0.96 1)" font-size="33" font-family="'Liberation Serif', serif" font-style="italic">Taq</text><text transform="translate(501.4 1157.2) scale(1 1.03)" font-size="33.5" font-family="'Liberation Serif', serif" >42</text>
<text transform="translate(446 1197.5) scale(0.96 1)" font-size="33" font-family="'Liberation Serif', serif" font-style="italic">Taq</text><text transform="translate(501.4 1197.5) scale(1 1.03)" font-size="33.5" font-family="'Liberation Serif', serif" >3B</text>
<text transform="translate(594.5 1324.4) scale(0.96 1)" font-size="33" font-family="'Liberation Serif', serif" font-style="italic">Taq</text><text transform="translate(652.3 1324.4) scale(1 1.03)" font-size="33.5" font-family="'Liberation Serif', serif" >(wt)</text>
<g stroke="#2f64b4" stroke-width="2.4" fill="none" stroke-linecap="butt" stroke-linejoin="miter"><line x1="486" y1="1218.5" x2="521.9" y2="1304.3"/><polyline points="505.26,1290.68 521.9,1304.3 523.88,1282.89"/></g>
<rect x="143.5" y="1018.5" width="282.5" height="349.5" fill="#fff"/>
<g stroke="#d2d2d2" stroke-width="1.1"><line x1="188.5" y1="1022.3" x2="188.5" y2="1344.6"/><line x1="195.27" y1="1022.3" x2="195.27" y2="1344.6"/><line x1="202.03" y1="1022.3" x2="202.03" y2="1344.6"/><line x1="208.8" y1="1022.3" x2="208.8" y2="1344.6"/><line x1="215.57" y1="1022.3" x2="215.57" y2="1344.6"/><line x1="222.34" y1="1022.3" x2="222.34" y2="1344.6"/><line x1="229.1" y1="1022.3" x2="229.1" y2="1344.6"/><line x1="235.87" y1="1022.3" x2="235.87" y2="1344.6"/><line x1="242.64" y1="1022.3" x2="242.64" y2="1344.6"/><line x1="249.4" y1="1022.3" x2="249.4" y2="1344.6"/><line x1="256.17" y1="1022.3" x2="256.17" y2="1344.6"/><line x1="262.94" y1="1022.3" x2="262.94" y2="1344.6"/><line x1="269.7" y1="1022.3" x2="269.7" y2="1344.6"/><line x1="276.47" y1="1022.3" x2="276.47" y2="1344.6"/><line x1="283.24" y1="1022.3" x2="283.24" y2="1344.6"/><line x1="290" y1="1022.3" x2="290" y2="1344.6"/><line x1="296.77" y1="1022.3" x2="296.77" y2="1344.6"/><line x1="303.54" y1="1022.3" x2="303.54" y2="1344.6"/><line x1="310.31" y1="1022.3" x2="310.31" y2="1344.6"/><line x1="317.07" y1="1022.3" x2="317.07" y2="1344.6"/><line x1="323.84" y1="1022.3" x2="323.84" y2="1344.6"/><line x1="330.61" y1="1022.3" x2="330.61" y2="1344.6"/><line x1="337.37" y1="1022.3" x2="337.37" y2="1344.6"/><line x1="344.14" y1="1022.3" x2="344.14" y2="1344.6"/><line x1="350.91" y1="1022.3" x2="350.91" y2="1344.6"/><line x1="357.68" y1="1022.3" x2="357.68" y2="1344.6"/><line x1="364.44" y1="1022.3" x2="364.44" y2="1344.6"/><line x1="371.21" y1="1022.3" x2="371.21" y2="1344.6"/><line x1="377.98" y1="1022.3" x2="377.98" y2="1344.6"/><line x1="384.74" y1="1022.3" x2="384.74" y2="1344.6"/><line x1="391.51" y1="1022.3" x2="391.51" y2="1344.6"/><line x1="398.28" y1="1022.3" x2="398.28" y2="1344.6"/><line x1="405.04" y1="1022.3" x2="405.04" y2="1344.6"/><line x1="411.81" y1="1022.3" x2="411.81" y2="1344.6"/><line x1="184.5" y1="1027.5" x2="418.5" y2="1027.5"/><line x1="184.5" y1="1038.47" x2="418.5" y2="1038.47"/><line x1="184.5" y1="1049.44" x2="418.5" y2="1049.44"/><line x1="184.5" y1="1060.4" x2="418.5" y2="1060.4"/><line x1="184.5" y1="1071.37" x2="418.5" y2="1071.37"/><line x1="184.5" y1="1082.34" x2="418.5" y2="1082.34"/><line x1="184.5" y1="1093.31" x2="418.5" y2="1093.31"/><line x1="184.5" y1="1104.28" x2="418.5" y2="1104.28"/><line x1="184.5" y1="1115.24" x2="418.5" y2="1115.24"/><line x1="184.5" y1="1126.21" x2="418.5" y2="1126.21"/><line x1="184.5" y1="1137.18" x2="418.5" y2="1137.18"/><line x1="184.5" y1="1148.15" x2="418.5" y2="1148.15"/><line x1="184.5" y1="1159.12" x2="418.5" y2="1159.12"/><line x1="184.5" y1="1170.08" x2="418.5" y2="1170.08"/><line x1="184.5" y1="1181.05" x2="418.5" y2="1181.05"/><line x1="184.5" y1="1192.02" x2="418.5" y2="1192.02"/><line x1="184.5" y1="1202.99" x2="418.5" y2="1202.99"/><line x1="184.5" y1="1213.96" x2="418.5" y2="1213.96"/><line x1="184.5" y1="1224.92" x2="418.5" y2="1224.92"/><line x1="184.5" y1="1235.89" x2="418.5" y2="1235.89"/><line x1="184.5" y1="1246.86" x2="418.5" y2="1246.86"/><line x1="184.5" y1="1257.83" x2="418.5" y2="1257.83"/><line x1="184.5" y1="1268.8" x2="418.5" y2="1268.8"/><line x1="184.5" y1="1279.76" x2="418.5" y2="1279.76"/><line x1="184.5" y1="1290.73" x2="418.5" y2="1290.73"/><line x1="184.5" y1="1301.7" x2="418.5" y2="1301.7"/><line x1="184.5" y1="1312.67" x2="418.5" y2="1312.67"/><line x1="184.5" y1="1323.64" x2="418.5" y2="1323.64"/><line x1="184.5" y1="1334.6" x2="418.5" y2="1334.6"/></g>
<line x1="343.6" y1="1022.3" x2="343.6" y2="1344.6" stroke="#a9bcd6" stroke-width="1.6"/>
<clipPath id="ic"><rect x="184.5" y="1022.3" width="234" height="322.3"/></clipPath>
<g clip-path="url(#ic)" fill="none" stroke-width="1.25">
<path d="M184.6 1283C186.5 1284 192.77 1287.83 196 1289C199.23 1290.17 201.33 1290.17 204 1290C206.67 1289.83 209.67 1288.6 212 1288C214.33 1287.4 212.75 1286.33 218 1286.4C223.25 1286.47 236.3 1287.63 243.5 1288.4C250.7 1289.17 256.55 1291.85 261.2 1291C265.85 1290.15 268.02 1287.97 271.4 1283.3C274.78 1278.63 278.75 1267.65 281.5 1263C284.25 1258.35 285.78 1255.82 287.9 1255.4C290.02 1254.98 291.87 1256.27 294.2 1260.5C296.53 1264.73 299.35 1273.18 301.9 1280.8C304.45 1288.42 306.97 1299 309.5 1306.2C312.03 1313.4 313.3 1320.42 317.1 1324C320.9 1327.58 328.07 1327.2 332.3 1327.7C336.53 1328.2 338.27 1325.95 342.5 1327C346.73 1328.05 353.12 1331.83 357.7 1334C362.28 1336.17 364.62 1338.5 370 1340C375.38 1341.5 382 1342.33 390 1343C398 1343.67 413.33 1343.83 418 1344" stroke="#a6d86a"/>
<path d="M184.6 1306.2C188.07 1305.43 197.7 1301.6 205.4 1301.6C213.1 1301.6 221.07 1303.32 230.8 1306.2C240.53 1309.08 254.28 1318.15 263.8 1318.9C273.32 1319.65 281.98 1310.92 287.9 1310.7C293.82 1310.48 294.43 1313.7 299.3 1317.6C304.17 1321.5 311.6 1330.5 317.1 1334.1C322.6 1337.7 325.53 1338.15 332.3 1339.2C339.07 1340.25 349.75 1339.93 357.7 1340.4C365.65 1340.87 369.95 1341.4 380 1342C390.05 1342.6 411.67 1343.67 418 1344" stroke="#7fd3b0"/>
<path d="M184.6 1273C185.5 1273.83 188.1 1276.5 190 1278C191.9 1279.5 193.83 1281 196 1282C198.17 1283 200.67 1284.33 203 1284C205.33 1283.67 207.5 1282.17 210 1280C212.5 1277.83 215 1273.67 218 1271C221 1268.33 224.33 1265.67 228 1264C231.67 1262.33 235.5 1261.33 240 1261C244.5 1260.67 250 1261.33 255 1262C260 1262.67 265 1264 270 1265C275 1266 280.83 1267 285 1268C289.17 1269 292.33 1270.42 295 1271C297.67 1271.58 299.5 1271.51 301 1271.5C302.5 1271.49 303 1271.18 304 1270.97C305 1270.75 306 1270.6 307 1270.2C308 1269.79 309 1269.36 310 1268.52C311 1267.69 312 1266.77 313 1265.17C314 1263.58 315 1261.77 316 1258.96C317 1256.16 318 1252.9 319 1248.36C320 1243.81 321 1238.46 322 1231.68C323 1224.89 324 1216.91 325 1207.64C326 1198.37 327 1187.57 328 1176.06C329 1164.55 330 1151.43 331 1138.58C332 1125.73 333 1111.6 334 1098.98C335 1086.35 336 1073.27 337 1062.81C338 1052.36 339 1042.66 340 1036.25C341 1029.84 342.4 1026.39 343 1024.35C343.6 1022.31 343 1022.22 343.6 1024C344.2 1025.78 345.6 1028.06 346.6 1035.06C347.6 1042.05 348.6 1053.36 349.6 1065.98C350.6 1078.6 351.6 1094.85 352.6 1110.78C353.6 1126.72 354.6 1144.91 355.6 1161.62C356.6 1178.32 357.6 1195.68 358.6 1211C359.6 1226.31 360.6 1240.93 361.6 1253.51C362.6 1266.1 363.6 1277.13 364.6 1286.51C365.6 1295.9 366.6 1303.43 367.6 1309.83C368.6 1316.23 369.6 1320.9 370.6 1324.91C371.6 1328.92 372.6 1331.57 373.6 1333.89C374.6 1336.2 375.6 1337.57 376.6 1338.81C377.6 1340.05 378.6 1340.69 379.6 1341.3C380.6 1341.91 381.6 1342.19 382.6 1342.47C383.6 1342.75 384.6 1342.86 385.6 1342.98C386.6 1343.1 387.6 1343.14 388.6 1343.19C389.6 1343.23 389.7 1343.19 391.6 1343.26C393.5 1343.33 395.6 1343.44 400 1343.6C404.4 1343.76 415 1344.1 418 1344.2" stroke="#5ed88e"/>
<path d="M184.6 1275.2C185.5 1276.03 188.1 1278.7 190 1280.2C191.9 1281.7 193.83 1283.2 196 1284.2C198.17 1285.2 200.67 1286.53 203 1286.2C205.33 1285.87 207.5 1284.37 210 1282.2C212.5 1280.03 215 1275.87 218 1273.2C221 1270.53 224.33 1267.87 228 1266.2C231.67 1264.53 235.5 1263.53 240 1263.2C244.5 1262.87 250 1263.53 255 1264.2C260 1264.87 265 1266.2 270 1267.2C275 1268.2 280.83 1269.2 285 1270.2C289.17 1271.2 292.33 1272.62 295 1273.2C297.67 1273.78 299.5 1273.7 301 1273.7C302.5 1273.7 303 1273.39 304 1273.18C305 1272.96 306 1272.82 307 1272.42C308 1272.01 309 1271.59 310 1270.77C311 1269.95 312 1269.04 313 1267.47C314 1265.9 315 1264.12 316 1261.36C317 1258.6 318 1255.39 319 1250.91C320 1246.43 321 1241.17 322 1234.49C323 1227.8 324 1219.95 325 1210.82C326 1201.69 327 1191.06 328 1179.73C329 1168.39 330 1155.47 331 1142.82C332 1130.17 333 1116.26 334 1103.82C335 1091.39 336 1078.51 337 1068.22C338 1057.92 339 1048.37 340 1042.06C341 1035.75 342.4 1032.35 343 1030.34C343.6 1028.33 343 1028.25 343.6 1030C344.2 1031.75 345.6 1033.98 346.6 1040.85C347.6 1047.71 348.6 1058.81 349.6 1071.19C350.6 1083.58 351.6 1099.51 352.6 1115.15C353.6 1130.79 354.6 1148.64 355.6 1165.03C356.6 1181.42 357.6 1198.46 358.6 1213.48C359.6 1228.51 360.6 1242.85 361.6 1255.2C362.6 1267.55 363.6 1278.37 364.6 1287.58C365.6 1296.79 366.6 1304.18 367.6 1310.46C368.6 1316.74 369.6 1321.33 370.6 1325.26C371.6 1329.19 372.6 1331.79 373.6 1334.06C374.6 1336.34 375.6 1337.68 376.6 1338.89C377.6 1340.11 378.6 1340.74 379.6 1341.34C380.6 1341.94 381.6 1342.21 382.6 1342.49C383.6 1342.76 384.6 1342.87 385.6 1342.99C386.6 1343.1 387.6 1343.14 388.6 1343.19C389.6 1343.23 389.7 1343.19 391.6 1343.26C393.5 1343.33 395.6 1343.44 400 1343.6C404.4 1343.76 415 1344.1 418 1344.2" stroke="#44d070"/>
<path d="M184.6 1276.5C185.5 1277.33 188.1 1280 190 1281.5C191.9 1283 193.83 1284.5 196 1285.5C198.17 1286.5 200.67 1287.83 203 1287.5C205.33 1287.17 207.5 1285.67 210 1283.5C212.5 1281.33 215 1277.17 218 1274.5C221 1271.83 224.33 1269.17 228 1267.5C231.67 1265.83 235.5 1264.83 240 1264.5C244.5 1264.17 250 1264.83 255 1265.5C260 1266.17 265 1267.5 270 1268.5C275 1269.5 280.83 1270.5 285 1271.5C289.17 1272.5 292.33 1273.92 295 1274.5C297.67 1275.08 299.5 1275 301 1275C302.5 1275 303 1274.7 304 1274.49C305 1274.28 306 1274.13 307 1273.74C308 1273.35 309 1272.93 310 1272.13C311 1271.32 312 1270.43 313 1268.89C314 1267.35 315 1265.6 316 1262.9C317 1260.19 318 1257.04 319 1252.65C320 1248.26 321 1243.1 322 1236.54C323 1229.99 324 1222.28 325 1213.33C326 1204.38 327 1193.95 328 1182.84C329 1171.73 330 1159.05 331 1146.64C332 1134.24 333 1120.6 334 1108.4C335 1096.21 336 1083.57 337 1073.48C338 1063.38 339 1054.02 340 1047.83C341 1041.64 342.4 1038.31 343 1036.34C343.6 1034.37 343 1034.28 343.6 1036C344.2 1037.72 345.6 1039.91 346.6 1046.64C347.6 1053.38 348.6 1064.26 349.6 1076.4C350.6 1088.55 351.6 1104.18 352.6 1119.52C353.6 1134.86 354.6 1152.37 355.6 1168.44C356.6 1184.52 357.6 1201.23 358.6 1215.97C359.6 1230.71 360.6 1244.77 361.6 1256.89C362.6 1269 363.6 1279.61 364.6 1288.65C365.6 1297.68 366.6 1304.93 367.6 1311.09C368.6 1317.25 369.6 1321.75 370.6 1325.61C371.6 1329.46 372.6 1332.01 373.6 1334.24C374.6 1336.47 375.6 1337.79 376.6 1338.98C377.6 1340.17 378.6 1340.79 379.6 1341.38C380.6 1341.97 381.6 1342.23 382.6 1342.5C383.6 1342.77 384.6 1342.88 385.6 1342.99C386.6 1343.11 387.6 1343.14 388.6 1343.19C389.6 1343.23 389.7 1343.19 391.6 1343.26C393.5 1343.33 395.6 1343.44 400 1343.6C404.4 1343.76 415 1344.1 418 1344.2" stroke="#7ddc72"/>
<path d="M184.6 1278C185.5 1278.83 188.1 1281.5 190 1283C191.9 1284.5 193.83 1286 196 1287C198.17 1288 200.67 1289.33 203 1289C205.33 1288.67 207.5 1287.17 210 1285C212.5 1282.83 215 1278.67 218 1276C221 1273.33 224.33 1270.67 228 1269C231.67 1267.33 235.5 1266.33 240 1266C244.5 1265.67 250 1266.33 255 1267C260 1267.67 265 1269 270 1270C275 1271 280.83 1272 285 1273C289.17 1274 292.33 1275.42 295 1276C297.67 1276.58 299.5 1276.5 301 1276.5C302.5 1276.5 303 1276.2 304 1275.99C305 1275.78 306 1275.64 307 1275.25C308 1274.86 309 1274.46 310 1273.66C311 1272.86 312 1271.98 313 1270.45C314 1268.93 315 1267.2 316 1264.52C317 1261.84 318 1258.73 319 1254.38C320 1250.04 321 1244.93 322 1238.45C323 1231.96 324 1224.33 325 1215.48C326 1206.62 327 1196.3 328 1185.3C329 1174.31 330 1161.76 331 1149.49C332 1137.21 333 1123.71 334 1111.64C335 1099.58 336 1087.08 337 1077.09C338 1067.1 339 1057.83 340 1051.7C341 1045.58 342.4 1042.28 343 1040.33C343.6 1038.38 343 1038.31 343.6 1040C344.2 1041.69 345.6 1043.86 346.6 1050.5C347.6 1057.15 348.6 1067.89 349.6 1079.88C350.6 1091.87 351.6 1107.3 352.6 1122.44C353.6 1137.58 354.6 1154.86 355.6 1170.72C356.6 1186.59 357.6 1203.08 358.6 1217.63C359.6 1232.18 360.6 1246.06 361.6 1258.01C362.6 1269.97 363.6 1280.44 364.6 1289.36C365.6 1298.28 366.6 1305.43 367.6 1311.51C368.6 1317.59 369.6 1322.03 370.6 1325.84C371.6 1329.64 372.6 1332.16 373.6 1334.36C374.6 1336.56 375.6 1337.86 376.6 1339.03C377.6 1340.21 378.6 1340.82 379.6 1341.4C380.6 1341.98 381.6 1342.25 382.6 1342.51C383.6 1342.78 384.6 1342.88 385.6 1343C386.6 1343.11 387.6 1343.15 388.6 1343.19C389.6 1343.24 389.7 1343.2 391.6 1343.26C393.5 1343.33 395.6 1343.44 400 1343.6C404.4 1343.76 415 1344.1 418 1344.2" stroke="#3fcf8f"/>
<path d="M184.6 1279.5C185.5 1280.33 188.1 1283 190 1284.5C191.9 1286 193.83 1287.5 196 1288.5C198.17 1289.5 200.67 1290.83 203 1290.5C205.33 1290.17 207.5 1288.67 210 1286.5C212.5 1284.33 215 1280.17 218 1277.5C221 1274.83 224.33 1272.17 228 1270.5C231.67 1268.83 235.5 1267.83 240 1267.5C244.5 1267.17 250 1267.83 255 1268.5C260 1269.17 265 1270.5 270 1271.5C275 1272.5 280.83 1273.5 285 1274.5C289.17 1275.5 292.33 1276.92 295 1277.5C297.67 1278.08 299.5 1278 301 1278C302.5 1278 303 1277.71 304 1277.5C305 1277.3 306 1277.17 307 1276.79C308 1276.41 309 1276.01 310 1275.23C311 1274.46 312 1273.6 313 1272.12C314 1270.64 315 1268.96 316 1266.35C317 1263.75 318 1260.72 319 1256.49C320 1252.27 321 1247.3 322 1240.99C323 1234.68 324 1227.27 325 1218.65C326 1210.04 327 1200.01 328 1189.31C329 1178.61 330 1166.42 331 1154.48C332 1142.54 333 1129.41 334 1117.67C335 1105.94 336 1093.78 337 1084.07C338 1074.35 339 1065.34 340 1059.38C341 1053.42 342.4 1050.22 343 1048.32C343.6 1046.43 343 1046.35 343.6 1048C344.2 1049.65 345.6 1051.75 346.6 1058.23C347.6 1064.7 348.6 1075.15 349.6 1086.83C350.6 1098.5 351.6 1113.52 352.6 1128.26C353.6 1143 354.6 1159.83 355.6 1175.27C356.6 1190.72 357.6 1206.78 358.6 1220.94C359.6 1235.11 360.6 1248.62 361.6 1260.26C362.6 1271.9 363.6 1282.1 364.6 1290.78C365.6 1299.46 366.6 1306.43 367.6 1312.35C368.6 1318.26 369.6 1322.59 370.6 1326.3C371.6 1330 372.6 1332.45 373.6 1334.6C374.6 1336.74 375.6 1338 376.6 1339.15C377.6 1340.29 378.6 1340.89 379.6 1341.45C380.6 1342.02 381.6 1342.28 382.6 1342.53C383.6 1342.79 384.6 1342.89 385.6 1343C386.6 1343.11 387.6 1343.15 388.6 1343.19C389.6 1343.24 389.7 1343.2 391.6 1343.26C393.5 1343.33 395.6 1343.44 400 1343.6C404.4 1343.76 415 1344.1 418 1344.2" stroke="#66d94f"/>
<path d="M184.6 1280.5C185.5 1281.33 188.1 1284 190 1285.5C191.9 1287 193.83 1288.5 196 1289.5C198.17 1290.5 200.67 1291.83 203 1291.5C205.33 1291.17 207.5 1289.67 210 1287.5C212.5 1285.33 215 1281.17 218 1278.5C221 1275.83 224.33 1273.17 228 1271.5C231.67 1269.83 235.5 1268.83 240 1268.5C244.5 1268.17 250 1268.83 255 1269.5C260 1270.17 265 1271.5 270 1272.5C275 1273.5 280.83 1274.5 285 1275.5C289.17 1276.5 292.33 1277.92 295 1278.5C297.67 1279.08 299.5 1279 301 1279C302.5 1279 303 1278.72 304 1278.52C305 1278.32 306 1278.19 307 1277.82C308 1277.46 309 1277.07 310 1276.32C311 1275.56 312 1274.73 313 1273.3C314 1271.86 315 1270.23 316 1267.71C317 1265.18 318 1262.24 319 1258.15C320 1254.05 321 1249.23 322 1243.12C323 1237 324 1229.81 325 1221.46C326 1213.11 327 1203.38 328 1193.01C329 1182.64 330 1170.81 331 1159.24C332 1147.66 333 1134.93 334 1123.55C335 1112.18 336 1100.39 337 1090.97C338 1081.55 339 1072.81 340 1067.03C341 1061.26 342.4 1058.15 343 1056.31C343.6 1054.48 343 1054.39 343.6 1056C344.2 1057.61 345.6 1059.65 346.6 1065.95C347.6 1072.24 348.6 1082.42 349.6 1093.77C350.6 1105.13 351.6 1119.75 352.6 1134.09C353.6 1148.43 354.6 1164.8 355.6 1179.82C356.6 1194.85 357.6 1210.48 358.6 1224.26C359.6 1238.04 360.6 1251.19 361.6 1262.51C362.6 1273.84 363.6 1283.76 364.6 1292.2C365.6 1300.65 366.6 1307.43 367.6 1313.18C368.6 1318.94 369.6 1323.15 370.6 1326.76C371.6 1330.37 372.6 1332.75 373.6 1334.83C374.6 1336.92 375.6 1338.15 376.6 1339.26C377.6 1340.37 378.6 1340.95 379.6 1341.5C380.6 1342.05 381.6 1342.3 382.6 1342.56C383.6 1342.81 384.6 1342.91 385.6 1343.01C386.6 1343.12 387.6 1343.15 388.6 1343.2C389.6 1343.24 389.7 1343.2 391.6 1343.27C393.5 1343.33 395.6 1343.44 400 1343.6C404.4 1343.76 415 1344.1 418 1344.2" stroke="#5cd6a8"/>
<path d="M184.6 1284C185.5 1284.83 188.1 1287.5 190 1289C191.9 1290.5 193.83 1292 196 1293C198.17 1294 200.67 1295.33 203 1295C205.33 1294.67 207.5 1293.17 210 1291C212.5 1288.83 215 1284.67 218 1282C221 1279.33 224.33 1276.67 228 1275C231.67 1273.33 235.5 1272.33 240 1272C244.5 1271.67 250 1272.33 255 1273C260 1273.67 265 1275 270 1276C275 1277 280.83 1278 285 1279C289.17 1280 292.33 1281.42 295 1282C297.67 1282.58 299.5 1282.5 301 1282.5C302.5 1282.5 303 1282.22 304 1282.03C305 1281.83 306 1281.7 307 1281.34C308 1280.97 309 1280.59 310 1279.85C311 1279.1 312 1278.28 313 1276.86C314 1275.44 315 1273.83 316 1271.33C317 1268.83 318 1265.93 319 1261.88C320 1257.83 321 1253.07 322 1247.02C323 1240.97 324 1233.86 325 1225.6C326 1217.35 327 1207.73 328 1197.47C329 1187.22 330 1175.53 331 1164.08C332 1152.63 333 1140.05 334 1128.8C335 1117.55 336 1105.89 337 1096.58C338 1087.26 339 1078.62 340 1072.91C341 1067.2 342.4 1064.13 343 1062.31C343.6 1060.49 343 1060.43 343.6 1062C344.2 1063.57 345.6 1065.58 346.6 1071.74C347.6 1077.91 348.6 1087.87 349.6 1098.99C350.6 1110.1 351.6 1124.41 352.6 1138.46C353.6 1152.5 354.6 1168.52 355.6 1183.24C356.6 1197.95 357.6 1213.25 358.6 1226.74C359.6 1240.24 360.6 1253.11 361.6 1264.2C362.6 1275.29 363.6 1285 364.6 1293.27C365.6 1301.54 366.6 1308.17 367.6 1313.81C368.6 1319.45 369.6 1323.57 370.6 1327.1C371.6 1330.64 372.6 1332.97 373.6 1335.01C374.6 1337.05 375.6 1338.26 376.6 1339.34C377.6 1340.43 378.6 1341 379.6 1341.54C380.6 1342.08 381.6 1342.33 382.6 1342.57C383.6 1342.82 384.6 1342.91 385.6 1343.02C386.6 1343.12 387.6 1343.16 388.6 1343.2C389.6 1343.24 389.7 1343.2 391.6 1343.27C393.5 1343.33 395.6 1343.44 400 1343.6C404.4 1343.76 415 1344.1 418 1344.2" stroke="#8ade78"/>
<path d="M184.6 1285.5C185.5 1286.33 188.1 1289 190 1290.5C191.9 1292 193.83 1293.5 196 1294.5C198.17 1295.5 200.67 1296.83 203 1296.5C205.33 1296.17 207.5 1294.67 210 1292.5C212.5 1290.33 215 1286.17 218 1283.5C221 1280.83 224.33 1278.17 228 1276.5C231.67 1274.83 235.5 1273.83 240 1273.5C244.5 1273.17 250 1273.83 255 1274.5C260 1275.17 265 1276.5 270 1277.5C275 1278.5 280.83 1279.5 285 1280.5C289.17 1281.5 292.33 1282.92 295 1283.5C297.67 1284.08 299.5 1283.99 301 1284C302.5 1284.01 303 1283.73 304 1283.54C305 1283.36 306 1283.23 307 1282.88C308 1282.53 309 1282.17 310 1281.45C311 1280.73 312 1279.94 313 1278.58C314 1277.22 315 1275.66 316 1273.26C317 1270.86 318 1268.07 319 1264.18C320 1260.28 321 1255.7 322 1249.89C323 1244.07 324 1237.24 325 1229.3C326 1221.36 327 1212.11 328 1202.25C329 1192.39 330 1181.15 331 1170.15C332 1159.14 333 1147.04 334 1136.22C335 1125.41 336 1114.2 337 1105.24C338 1096.29 339 1087.98 340 1082.49C341 1077 342.4 1074.05 343 1072.3C343.6 1070.55 343 1070.48 343.6 1072C344.2 1073.52 345.6 1075.45 346.6 1081.39C347.6 1087.34 348.6 1096.95 349.6 1107.67C350.6 1118.39 351.6 1132.2 352.6 1145.74C353.6 1159.28 354.6 1174.74 355.6 1188.93C356.6 1203.12 357.6 1217.87 358.6 1230.89C359.6 1243.9 360.6 1256.32 361.6 1267.01C362.6 1277.71 363.6 1287.08 364.6 1295.05C365.6 1303.03 366.6 1309.42 367.6 1314.86C368.6 1320.3 369.6 1324.27 370.6 1327.68C371.6 1331.09 372.6 1333.34 373.6 1335.3C374.6 1337.27 375.6 1338.43 376.6 1339.48C377.6 1340.53 378.6 1341.09 379.6 1341.6C380.6 1342.12 381.6 1342.36 382.6 1342.6C383.6 1342.83 384.6 1342.93 385.6 1343.03C386.6 1343.13 387.6 1343.16 388.6 1343.2C389.6 1343.24 389.7 1343.2 391.6 1343.27C393.5 1343.33 395.6 1343.44 400 1343.6C404.4 1343.76 415 1344.1 418 1344.2" stroke="#42d35c"/>
</g>
<rect x="184.5" y="1022.3" width="234" height="322.3" fill="none" stroke="#7a7a7a" stroke-width="1.3"/>
<text x="151.2" y="1024.4" font-size="14.3" font-family="'Liberation Sans', sans-serif">-Rn</text>
<text x="180.6" y="1061.4" font-size="15.4" text-anchor="end" font-family="'Liberation Sans', sans-serif">1x10<tspan font-size="9.6" dy="-5">5</tspan></text>
<text x="180.6" y="1182.7" font-size="15.4" text-anchor="end" font-family="'Liberation Sans', sans-serif">6x10<tspan font-size="9.6" dy="-5">4</tspan></text>
<text x="180.6" y="1304.3" font-size="15.4" text-anchor="end" font-family="'Liberation Sans', sans-serif">2x10<tspan font-size="9.6" dy="-5">4</tspan></text>
<text x="210.9" y="1357" font-size="14.6" text-anchor="middle" font-family="'Liberation Sans', sans-serif">65</text>
<text x="282.2" y="1357" font-size="14.6" text-anchor="middle" font-family="'Liberation Sans', sans-serif">75</text>
<text x="352" y="1357" font-size="14.6" text-anchor="middle" font-family="'Liberation Sans', sans-serif">85</text>
<text x="415.3" y="1357" font-size="14.6" text-anchor="middle" font-family="'Liberation Sans', sans-serif">95</text>
<text x="306.3" y="1371.3" font-size="14.6" text-anchor="middle" font-family="'Liberation Sans', sans-serif">Temp (&#176;C)</text>
<g stroke="#2f64b4" stroke-width="2.4" fill="none" stroke-linecap="butt" stroke-linejoin="miter"><line x1="425.1" y1="1126.8" x2="352.1" y2="1126.8"/><polyline points="370.64,1116.94 352.1,1126.8 370.64,1136.66"/></g>
</svg>
</body></html>
